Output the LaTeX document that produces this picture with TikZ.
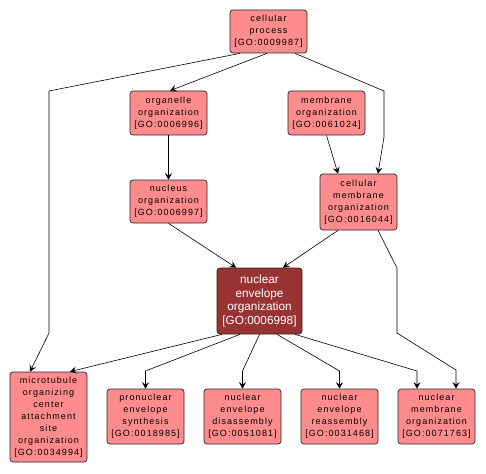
\documentclass[tikz,border=0pt]{standalone}
\usepackage{fontspec}
\setmainfont{Liberation Sans}
\newfontfamily\gofont[LetterSpace=12]{Liberation Sans}
\usetikzlibrary{arrows.meta}
\definecolor{goterm}{HTML}{FF8C8C}
\definecolor{gofocus}{HTML}{993333}
\begin{document}
\begin{tikzpicture}[x=1pt,y=-1pt,
  term/.style={draw=black!85,line width=0.7pt,rounded corners=3pt,fill=goterm,
    minimum width=77pt,align=center,inner sep=1pt,
    font=\fontsize{9}{12}\gofont},
  focus/.style={term,fill=gofocus,text=white,minimum width=85pt,
    font=\fontsize{11.8}{13.8}\selectfont},
  edge/.style={-{Stealth[length=6.5pt,width=7pt,inset=2.5pt]},line width=0.6pt}]
  \useasboundingbox (0,0) rectangle (486,473);
  % terms
  \node[term,minimum height=43pt] (cp) at (268.5,31.5) {cellular\\process\\{[GO:0009987]}};
  \node[term,minimum height=44pt] (oo) at (168.5,113) {organelle\\organization\\{[GO:0006996]}};
  \node[term,minimum height=44pt] (mo) at (326.5,113) {membrane\\organization\\{[GO:0061024]}};
  \node[term,minimum height=43pt] (no) at (168.5,201.5) {nucleus\\organization\\{[GO:0006997]}};
  \node[term,minimum height=56pt] (cmo) at (358.5,202) {cellular\\membrane\\organization\\{[GO:0016044]}};
  \node[focus,minimum height=66pt] (neo) at (259.5,301) {nuclear\\envelope\\organization\\{[GO:0006998]}};
  \node[term,minimum height=90pt] (mt) at (48.5,417) {microtubule\\organizing\\center\\attachment\\site\\organization\\{[GO:0034994]}};
  \node[term,minimum height=55pt] (pes) at (145.5,416.5) {pronuclear\\envelope\\synthesis\\{[GO:0018985]}};
  \node[term,minimum height=55pt] (ned) at (242.5,416.5) {nuclear\\envelope\\disassembly\\{[GO:0051081]}};
  \node[term,minimum height=55pt] (ner) at (339.5,416.5) {nuclear\\envelope\\reassembly\\{[GO:0031468]}};
  \node[term,minimum height=55pt] (nmo) at (436.5,416.5) {nuclear\\membrane\\organization\\{[GO:0071763]}};
  % is_a links
  \draw[edge] ([xshift=-1.5pt]cp.south) -- ([xshift=1.5pt]oo.north);
  \draw[edge] ([xshift=-28.5pt]cp.south) -- (49,91) -- (49,333) -- ([xshift=-18.5pt]mt.north);
  \draw[edge] ([xshift=26.5pt]cp.south) -- (384,91) -- (384,137) -- ([xshift=19.5pt]cmo.north);
  \draw[edge] (mo.south) -- ([xshift=-20.5pt]cmo.north);
  \draw[edge] (oo.south) -- (no.north);
  \draw[edge] (no.south) -- ([xshift=-23.5pt]neo.north);
  \draw[edge] ([xshift=-20.5pt]cmo.south) -- ([xshift=23.5pt]neo.north);
  \draw[edge] ([xshift=19.5pt]cmo.south) -- (397,268) -- (397,333) -- (456,370) -- ([xshift=19.5pt]nmo.north);
  \draw[edge] ([xshift=-37.5pt]neo.south) -- ([xshift=21.5pt]mt.north);
  \draw[edge] ([xshift=-19.5pt]neo.south) -- (145.5,371) -- (pes.north);
  \draw[edge] (neo.south) -- (242.5,371) -- (ned.north);
  \draw[edge] ([xshift=17.5pt]neo.south) -- (339.5,371) -- (ner.north);
  \draw[edge] ([xshift=35.5pt]neo.south) -- (417,371) -- ([xshift=-19.5pt]nmo.north);
\end{tikzpicture}
\end{document}
